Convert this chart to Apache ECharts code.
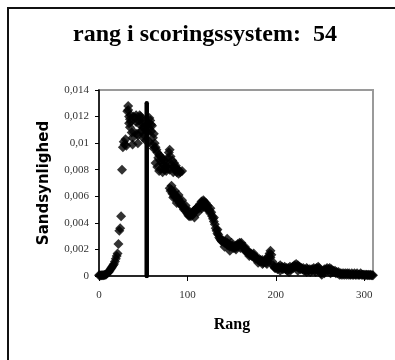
<!DOCTYPE html>
<html>
<head>
<meta charset="utf-8">
<script src="https://cdn.jsdelivr.net/npm/echarts@6/dist/echarts.min.js"></script>
<style>
html,body{margin:0;padding:0;background:#fff;}
#chart{width:395px;height:360px;}
</style>
</head>
<body>
<div id="chart"></div>
<script>
var titleText = 'rang i scoringssystem:  54';
var xName = 'Rang';
var yName = 'Sandsynlighed';
var xTicks = [0, 100, 200, 300];
var yTicks = [0, 0.002, 0.004, 0.006, 0.008, 0.01, 0.012, 0.014];
var markedRank = [[54, 0], [54, 0.013]];

var risingPoints = [[0,0.00005],[1,0.00005],[2,0.00004],[3,0.00005],[4,0.00006],[5,0.00005],[6,0.00008],[7,0.0001],[8,0.00012],[9,0.00018],[10,0.00025],[11,0.0003],[12,0.0004],[13,0.0005],[14,0.0006],[15,0.0007],[16,0.0008],[17,0.0009],[18,0.0011],[19,0.0013],[20,0.0015],[21,0.0017],[22,0.0024],[23,0.0034],[24,0.0036],[25,0.0045]];

var peakPoints = [[26,0.0080],[27,0.0097],[28,0.0101],[29,0.0099],[30,0.0103],[31,0.0098],[32,0.0124],[33,0.0128],[34,0.0120],[35,0.0118],[36,0.0121],[37,0.0108],[38,0.0099],[39,0.0120],[40,0.0108],[41,0.0119],[42,0.0121],[43,0.0107],[44,0.0106],[45,0.0117],[46,0.0114],[47,0.0120],[48,0.0109],[49,0.0115],[50,0.0112],[51,0.0106],[52,0.0117],[53,0.0110],[54,0.0113],[55,0.0108],[56,0.0115],[57,0.0111],[58,0.0117],[59,0.0109],[60,0.0113],[61,0.0104],[62,0.0107],[63,0.0100],[64,0.0097],[65,0.0095],
  [33,0.0125],[35,0.0112],[36,0.0116],[38,0.0104],[44,0.0100],[46,0.0121],[48,0.0118],[50,0.0104],[53,0.0102],[57,0.0119],[59,0.0114],[57,0.0101],[60,0.0099],[62,0.0096],[34,0.0115],[42,0.0116],[49,0.0110]];

var upperShoulder = [[66,0.0093],[67,0.0089],[68,0.0091],[69,0.0087],[70,0.0090],[71,0.0085],[72,0.0088],[73,0.0084],[74,0.0087],[75,0.0082],[76,0.0086],[77,0.0083],[78,0.0089],[79,0.0093],[80,0.0095],[81,0.0090],[82,0.0084],[83,0.0087],[84,0.0082],[85,0.0085],[86,0.0080],[87,0.0083],[88,0.0078],[89,0.0080],[90,0.0077],[91,0.0079],
  [64,0.0085],[66,0.0082],[68,0.0079],[70,0.0081],[72,0.0078],[74,0.0080],[76,0.0079],[78,0.0081],[80,0.0080],[84,0.0078],[88,0.0081],[92,0.0078],[94,0.0079]];

var lowerShoulder = [[80,0.0066],[81,0.0064],[82,0.0065],[83,0.0062],[84,0.0063],[85,0.0060],[86,0.0061],[87,0.0059],[88,0.0060],[89,0.0057],[90,0.0058],[91,0.0055],[92,0.0056],[93,0.0053],[94,0.0054],[95,0.0052],[96,0.0050],[97,0.0051],[98,0.0049],[99,0.0050],[100,0.0047],[101,0.0046],[102,0.0045],[103,0.0046],[104,0.0045],[105,0.0047],[106,0.0046],[107,0.0049],[108,0.0048],[109,0.0050],[110,0.0051],[111,0.0050],[112,0.0052],[113,0.0051],[114,0.0054],[115,0.0053],[116,0.0056],[117,0.0055],[118,0.0057],[119,0.0056],[120,0.0054],[121,0.0055],[122,0.0052],[123,0.0053],[124,0.0050],[125,0.0049],[126,0.0047],[127,0.0048],[128,0.0045],[129,0.0043],[130,0.0041],[131,0.0039],[132,0.0036],[133,0.0034],[134,0.0032],[135,0.0031],[136,0.0029],[137,0.0028],[138,0.0027],[139,0.0026],
  [82,0.0068],[86,0.0064],[90,0.0061],[84,0.0059],[88,0.0055],[94,0.0057],[98,0.0053],[112,0.0048],[116,0.0051],[118,0.0052],[121,0.0051],[126,0.0051],[102,0.0049],[108,0.0044],[130,0.0044],[134,0.0035]];

var midTail = [[140,0.0027],[141,0.0026],[142,0.0025],[143,0.0026],[144,0.0024],[145,0.0025],[146,0.0023],[147,0.0024],[148,0.0022],[149,0.0023],[150,0.0022],[151,0.0023],[152,0.0021],[153,0.0022],[154,0.0021],[155,0.0023],[156,0.0022],[157,0.0024],[158,0.0023],[159,0.0025],[160,0.0024],[161,0.0025],[162,0.0023],[163,0.0022],[164,0.0021],[165,0.0019],[166,0.0020],[167,0.0018],[168,0.0019],[169,0.0017],[170,0.0018],[171,0.0016],[172,0.0017],[173,0.0015],[174,0.0016],[175,0.0014],[176,0.0015],[177,0.0013],[178,0.0014],[179,0.0013],[180,0.0012],[181,0.0013],[182,0.0011],[183,0.0012],[184,0.0011],[185,0.0012],[186,0.0010],[187,0.0011],[188,0.0012],[189,0.0010],[190,0.0013],[191,0.0011],[192,0.0015],[193,0.0017],[194,0.0019],[195,0.0016],[196,0.0011],[197,0.0008],[198,0.0007],[199,0.0006],
  [145,0.0028],[150,0.0025],[155,0.0020],[160,0.0021],[170,0.0015],[180,0.0010],[190,0.0009],[194,0.0014],[142,0.0022],[148,0.0019],[165,0.0022],[175,0.0017],[185,0.0009]];

var farTail = [[200,0.0006],[201,0.0007],[202,0.0005],[203,0.0007],[204,0.0006],[205,0.0008],[206,0.0006],[207,0.0007],[208,0.0005],[209,0.0006],[210,0.0007],[211,0.0005],[212,0.0006],[213,0.0004],[214,0.0006],[215,0.0005],[216,0.0007],[217,0.0005],[218,0.0006],[219,0.0007],[220,0.0006],[221,0.0008],[222,0.0007],[223,0.0009],[224,0.0007],[225,0.0008],[226,0.0006],[227,0.0007],[228,0.0005],[229,0.0006],[230,0.0005],[231,0.0006],[232,0.0004],[233,0.0005],[234,0.0004],[235,0.0006],[236,0.0005],[237,0.0004],[238,0.0005],[239,0.0003],[240,0.0005],[241,0.0004],[242,0.0005],[243,0.0006],[244,0.0004],[245,0.0005],[246,0.0006],[247,0.0005],[248,0.0007],[249,0.0006],[250,0.0004],[251,0.0002],[252,0.0001],[253,0.0003],[254,0.0004],[255,0.0005],[256,0.0004],[257,0.0005],[258,0.0006],[259,0.0004],[260,0.0005],[261,0.0006],[262,0.0004],[263,0.0005],[264,0.0003],[265,0.0004],[266,0.0003],[267,0.0004],[268,0.0002],[269,0.0003],[270,0.0002],[271,0.0003],[272,0.0001],[273,0.0002],[274,0.0001],[275,0.0002],
  [276,0.0001],[277,0.0002],[278,0.0001],[279,0.0002],[280,0.0001],[281,0.0002],[282,0.0001],[283,0.0002],[284,0.0001],[285,0.0001],[286,0.0002],[287,0.0001],[288,0.0001],[289,0.0002],[290,0.0001],[291,0.0001],[292,0.0002],[293,0.0001],[294,0.0001],[295,0.0001],[296,0.0002],[297,0.0001],[298,0.0001],[299,0.0001],[300,0.0001],[301,0.00005],[302,0.0001],[303,0.0001],[304,0.00005],[305,0.0001],[306,0.00005],[307,0.0001],[308,0.00005],[309,0.00005],[310,0.00005],
  [205,0.0004],[215,0.0003],[225,0.0004],[235,0.0003],[245,0.0003],[255,0.0002],[262,0.0002]];

var allPoints = [].concat(risingPoints, peakPoints, upperShoulder, lowerShoulder, midTail, farTail);

var chart = echarts.init(document.getElementById('chart'), null, {renderer: 'canvas'});
var serif = '"Liberation Serif", "Times New Roman", serif';
chart.setOption({
  backgroundColor: '#fff',
  animation: false,
  title: {
    text: titleText,
    left: 73,
    top: 23,
    padding: 0,
    textStyle: {fontFamily: serif, fontWeight: 'bold', fontSize: 24, color: '#000'}
  },
  graphic: [{
    type: 'rect',
    shape: {x: 8, y: 8, width: 420, height: 400},
    style: {fill: null, stroke: '#111', lineWidth: 2},
    silent: true, z: 100
  }],
  grid: {
    left: 99, top: 90, right: 22, bottom: 84,
    show: true, borderColor: '#9a9a9a', borderWidth: 2, backgroundColor: 'transparent'
  },
  xAxis: {
    type: 'value', min: 0, max: 310, interval: 100,
    name: xName, nameLocation: 'middle', nameGap: 41,
    nameTextStyle: {fontFamily: serif, fontWeight: 'bold', fontSize: 16, color: '#000', padding: [0, 8, 0, 0]},
    axisLine: {show: true, onZero: false, lineStyle: {color: '#000', width: 1.5}},
    axisTick: {show: true, length: 5, customValues: xTicks, lineStyle: {color: '#000'}},
    axisLabel: {customValues: xTicks, margin: 14, fontFamily: serif, fontSize: 11, color: '#333'},
    splitLine: {show: false}
  },
  yAxis: {
    type: 'value', min: 0, max: 0.014, interval: 0.002,
    name: yName, nameLocation: 'middle', nameGap: 47, nameRotate: 90,
    nameTextStyle: {fontFamily: '"DejaVu Sans", sans-serif', fontWeight: 'bold', fontSize: 15, color: '#000'},
    axisLine: {show: true, lineStyle: {color: '#000', width: 1.5}},
    axisTick: {show: true, length: 4, customValues: yTicks, lineStyle: {color: '#000'}},
    axisLabel: {
      customValues: yTicks, margin: 10, fontFamily: serif, fontSize: 11, color: '#333',
      formatter: function (v) { return String(+v.toFixed(3)).replace('.', ','); }
    },
    splitLine: {show: false}
  },
  series: [{
    type: 'scatter',
    data: allPoints,
    symbol: 'diamond',
    symbolSize: 10,
    itemStyle: {color: '#000'},
    clip: false,
    z: 2
  }, {
    type: 'line',
    data: markedRank,
    symbol: 'none',
    lineStyle: {color: '#000', width: 4.5, cap: 'round'},
    z: 3
  }]
});
</script>
</body>
</html>
